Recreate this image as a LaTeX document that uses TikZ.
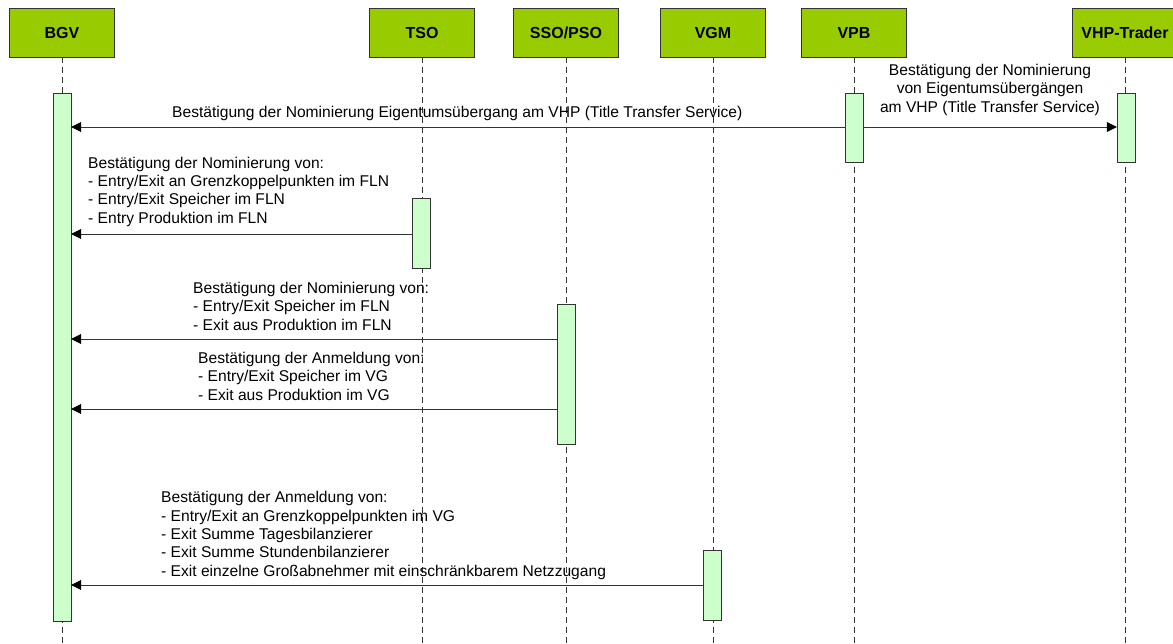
\documentclass[tikz,border=0pt]{standalone}
\usepackage{fontspec}
\setmainfont{Liberation Sans}
\usetikzlibrary{arrows.meta}
\definecolor{hdr}{HTML}{99CC00}
\definecolor{actc}{HTML}{CCFFCC}
\definecolor{ln}{HTML}{333333}
\begin{document}
\begin{tikzpicture}[x=1pt,y=-1pt,
  head/.style={draw=ln, fill=hdr, minimum width=105pt, minimum height=49pt, inner sep=0pt,
    font=\fontsize{16}{18}\selectfont\bfseries},
  act/.style={draw=ln, fill=actc, minimum width=18pt, inner sep=0pt},
  life/.style={draw=ln, dash pattern=on 6pt off 4pt, line width=0.6pt},
  msg/.style={draw=ln, line width=0.7pt, -{Triangle[length=10pt,width=10pt,color=black]}},
  lbl/.style={font=\fontsize{15.6}{18.3}\selectfont, inner sep=0pt, align=left}
]
\useasboundingbox (0,0) rectangle (1173,643);

% headers
\node[head] (bgv) at (62,32.5) {BGV};
\node[head] (tso) at (422,32.5) {TSO};
\node[head] (sso) at (566,32.5) {SSO/PSO};
\node[head] (vgm) at (713,32.5) {VGM};
\node[head] (vpb) at (854,32.5) {VPB};
\node[head] (vhp) at (1125,32.5) {VHP-Trader};

% lifeline ends
\coordinate (bgvE) at (62,643);
\coordinate (tsoE) at (422,643);
\coordinate (ssoE) at (566,643);
\coordinate (vgmE) at (713,643);
\coordinate (vpbE) at (854,643);
\coordinate (vhpE) at (1125,643);
\foreach \n in {bgv,tso,sso,vgm,vpb,vhp}
  \draw[life] (\n.south) -- (\n E);

% activations
\node[act, minimum height=528pt] (bgvA) at (62,357) {};
\node[act, minimum height=69pt] (vpbA) at (854,127.5) {};
\node[act, minimum height=69pt] (vhpA) at (1126,127.5) {};
\node[act, minimum height=70pt] (tsoA) at (421,233) {};
\node[act, minimum height=140pt] (ssoA) at (566,374) {};
\node[act, minimum height=70pt] (vgmA) at (712,585) {};

% messages
\draw[msg] (vpbA.west |- 0,127) -- (bgvA.east |- 0,127);
\draw[msg] (vpbA.east |- 0,127) -- (vhpA.west |- 0,127);
\draw[msg] (tsoA.west |- 0,234) -- (bgvA.east |- 0,234);
\draw[msg] (ssoA.west |- 0,339) -- (bgvA.east |- 0,339);
\draw[msg] (ssoA.west |- 0,409) -- (bgvA.east |- 0,409);
\draw[msg] (vgmA.west |- 0,585) -- (bgvA.east |- 0,585);

% labels (base anchor = baseline of the last line)
\node[lbl, anchor=base west] (l1) at (172,117) {Bestätigung der Nominierung Eigentumsübergang am VHP (Title Transfer Service)};
\node[lbl, anchor=base, align=center] (l2) at (990,112) {Bestätigung der Nominierung\\von Eigentumsübergängen\\am VHP (Title Transfer Service)};
\node[lbl, anchor=base west] (l3) at (88,223) {Bestätigung der Nominierung von:\\- Entry/Exit an Grenzkoppelpunkten im FLN\\- Entry/Exit Speicher im FLN\\- Entry Produktion im FLN};
\node[lbl, anchor=base west] (l4) at (193,330) {Bestätigung der Nominierung von:\\- Entry/Exit Speicher im FLN\\- Exit aus Produktion im FLN};
\node[lbl, anchor=base west] (l5) at (198,400) {Bestätigung der Anmeldung von:\\- Entry/Exit Speicher im VG\\- Exit aus Produktion im VG};
\node[lbl, anchor=base west] (l6) at (161,576) {Bestätigung der Anmeldung von:\\- Entry/Exit an Grenzkoppelpunkten im VG\\- Exit Summe Tagesbilanzierer\\- Exit Summe Stundenbilanzierer\\- Exit einzelne Großabnehmer mit einschränkbarem Netzzugang};
\end{tikzpicture}
\end{document}
